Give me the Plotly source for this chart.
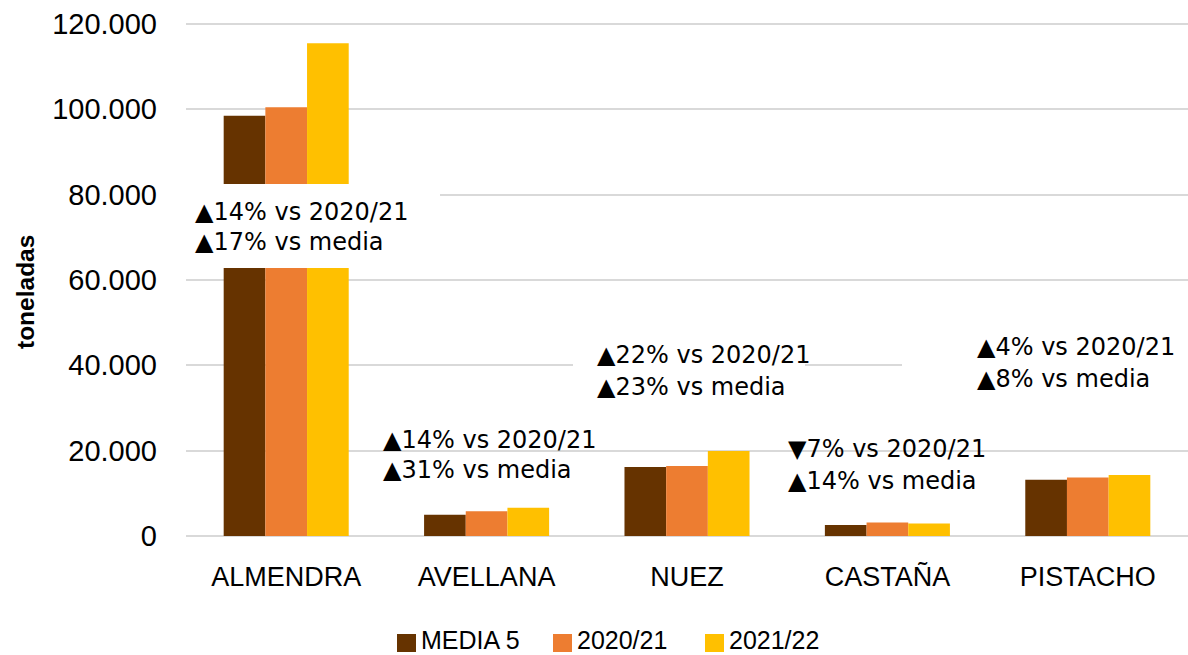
import plotly.graph_objects as go

categories = ["ALMENDRA", "AVELLANA", "NUEZ", "CASTAÑA", "PISTACHO"]
media5 = [98500, 5000, 16200, 2550, 13200]
s2020_21 = [100500, 5800, 16400, 3150, 13700]
s2021_22 = [115500, 6600, 19900, 2920, 14300]
series_names = ["MEDIA 5", "2020/21", "2021/22"]
colors = ["#663300", "#ED7D31", "#FFC000"]
yticks = [0, 20000, 40000, 60000, 80000, 100000, 120000]
ytick_labels = ["0", "20.000", "40.000", "60.000", "80.000", "100.000", "120.000"]

notes = [
    ("▲14% vs 2020/21", "▲17% vs media"),
    ("▲14% vs 2020/21", "▲31% vs media"),
    ("▲22% vs 2020/21", "▲23% vs media"),
    ("▼7% vs 2020/21", "▲14% vs media"),
    ("▲4% vs 2020/21", "▲8% vs media"),
]

W, H = 1188, 655
ML, MR, MT, MB = 186, 0, 20, 119
PW = W - ML - MR
PH = H - MT - MB
PX_PER_UNIT = 512 / 120000.0
YMAX = PH / PX_PER_UNIT


def px_x(px):
    return (px - ML) / PW


def px_y(py):
    return (H - MB - py) / PH


fig = go.Figure()
for name, vals, col in zip(series_names, [media5, s2020_21, s2021_22], colors):
    fig.add_trace(go.Bar(x=categories, y=vals, name=name, marker_color=col,
                         marker_line_width=0, showlegend=False))

# white background boxes behind some labels
boxes = [(186, 184, 440, 268), (573, 336, 805, 404), (902, 328, 1188, 396)]
shapes = []
for x0, y0, x1, y1 in boxes:
    shapes.append(dict(type="rect", xref="paper", yref="paper",
                       x0=px_x(x0), x1=px_x(x1), y0=px_y(y1), y1=px_y(y0),
                       fillcolor="white", line_width=0, layer="above"))

note_pos = [(193, 212, 242), (381, 440, 470), (595, 355, 387), (786, 449, 481), (975, 347, 379)]
annotations = []
for (l1, l2), (px, y1, y2) in zip(notes, note_pos):
    for txt, py in ((l1, y1), (l2, y2)):
        annotations.append(dict(text=txt, xref="paper", yref="paper", x=px_x(px), y=px_y(py),
                                xanchor="left", yanchor="middle", showarrow=False,
                                font=dict(family="DejaVu Sans", size=24, color="black")))

annotations.append(dict(text="<b>toneladas</b>", xref="paper", yref="paper",
                        x=px_x(25), y=px_y(292), textangle=-90, showarrow=False,
                        xanchor="center", yanchor="middle",
                        font=dict(family="Liberation Sans", size=24.5, color="black")))

# manual legend
legend_pos = [(397, 422), (553, 578), (705, 730)]
for name, col, (sx, tx) in zip(series_names, colors, legend_pos):
    shapes.append(dict(type="rect", xref="paper", yref="paper",
                       x0=px_x(sx), x1=px_x(sx + 19), y0=px_y(652), y1=px_y(634),
                       fillcolor=col, line_width=0))
    annotations.append(dict(text=name, xref="paper", yref="paper", x=px_x(tx - 2), y=px_y(655),
                            xanchor="left", yanchor="bottom", showarrow=False, borderpad=0,
                            font=dict(family="Liberation Sans", size=25, color="black")))

fig.update_layout(
    width=W, height=H,
    margin=dict(l=ML, r=MR, t=MT, b=MB),
    paper_bgcolor="white", plot_bgcolor="white",
    barmode="group", bargap=0.376, bargroupgap=0,
    font=dict(family="Liberation Sans", color="black"),
    shapes=shapes, annotations=annotations,
    showlegend=False,
    yaxis=dict(range=[0, YMAX], tickvals=yticks, ticktext=ytick_labels,
               showgrid=True, gridcolor="#D9D9D9", gridwidth=1.5,
               zeroline=True, zerolinecolor="#D9D9D9", zerolinewidth=1.5,
               showline=False, ticks="", tickfont=dict(size=29),
               ticklabelstandoff=28),
    xaxis=dict(showgrid=False, showline=False, ticks="", tickfont=dict(size=27),
               ticklabelstandoff=22),
)

fig.write_html("out.html", config={"displayModeBar": False},
               post_script="document.body.style.margin='0';document.body.style.overflow='hidden';")
